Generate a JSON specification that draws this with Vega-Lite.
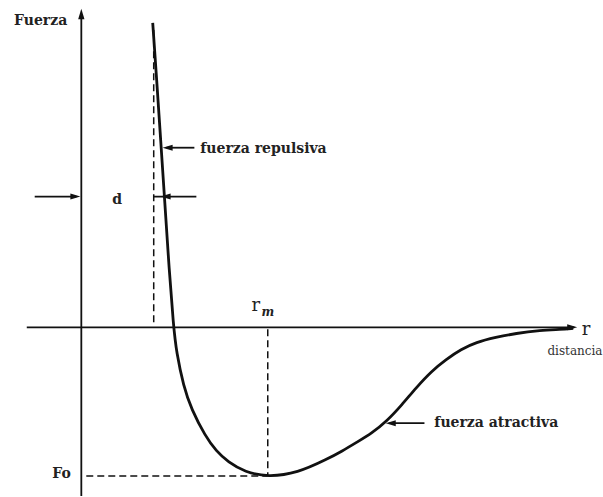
{
  "$schema": "https://vega.github.io/schema/vega-lite/v6.json",
  "width": 603,
  "height": 497,
  "padding": 0,
  "autosize": {"type": "fit", "contains": "padding"},
  "background": "white",
  "config": {"view": {"stroke": null}},
  "datasets": {
    "curve": [
      {"r": 1.44, "F": 3.05}, {"r": 1.52, "F": 2.48}, {"r": 1.60, "F": 1.88},
      {"r": 1.68, "F": 1.28}, {"r": 1.76, "F": 0.66}, {"r": 1.86, "F": 0.00},
      {"r": 1.92, "F": -0.25}, {"r": 2.06, "F": -0.59}, {"r": 2.22, "F": -0.82},
      {"r": 2.50, "F": -1.09}, {"r": 2.72, "F": -1.24}, {"r": 2.96, "F": -1.35},
      {"r": 3.30, "F": -1.45}, {"r": 3.76, "F": -1.50}, {"r": 4.36, "F": -1.46},
      {"r": 4.96, "F": -1.32}, {"r": 5.26, "F": -1.24}, {"r": 5.56, "F": -1.15},
      {"r": 5.86, "F": -1.06}, {"r": 6.16, "F": -0.94}, {"r": 6.46, "F": -0.78},
      {"r": 6.76, "F": -0.60}, {"r": 7.06, "F": -0.44}, {"r": 7.36, "F": -0.32},
      {"r": 7.66, "F": -0.22}, {"r": 7.96, "F": -0.15}, {"r": 8.36, "F": -0.10},
      {"r": 8.76, "F": -0.06}, {"r": 9.26, "F": -0.03}, {"r": 9.66, "F": -0.02},
      {"r": 9.92, "F": -0.01}
    ],
    "solid": [
      {"name": "eje F", "r": 0, "r2": 0, "F": -1.69, "F2": 3.12},
      {"name": "eje r", "r": -1.10, "r2": 9.94, "F": 0, "F2": 0},
      {"name": "d izquierda", "r": -0.94, "r2": -0.1, "F": 1.31, "F2": 1.31},
      {"name": "d derecha", "r": 1.46, "r2": 2.32, "F": 1.31, "F2": 1.31},
      {"name": "repulsiva", "r": 1.72, "r2": 2.28, "F": 1.80, "F2": 1.80},
      {"name": "atractiva", "r": 6.2, "r2": 6.92, "F": -0.96, "F2": -0.96}
    ],
    "dashed": [
      {"name": "d", "r": 1.46, "r2": 1.46, "F": 0.05, "F2": 2.98},
      {"name": "rm", "r": 3.76, "r2": 3.76, "F": -0.02, "F2": -1.49},
      {"name": "Fo", "r": 0.1, "r2": 3.76, "F": -1.49, "F2": -1.49}
    ],
    "headsRight": [
      {"r": 9.9, "F": 0},
      {"r": -0.12, "F": 1.31}
    ],
    "headsLeft": [
      {"r": 1.70, "F": 1.31},
      {"r": 1.74, "F": 1.80},
      {"r": 6.24, "F": -0.96}
    ],
    "headsUp": [
      {"r": 0, "F": 3.14}
    ],
    "labelsCenter": [
      {"r": -0.82, "F": 3.07, "text": "Fuerza"},
      {"r": 0.72, "F": 1.28, "text": "d"},
      {"r": -0.40, "F": -1.47, "text": "Fo"}
    ],
    "labelsLeft": [
      {"r": 2.40, "F": 1.79, "text": "fuerza repulsiva"},
      {"r": 7.12, "F": -0.96, "text": "fuerza atractiva"}
    ],
    "labelsR": [
      {"r": 3.52, "F": 0.21, "text": "r"},
      {"r": 10.18, "F": -0.03, "text": "r"}
    ],
    "labelsSub": [
      {"r": 3.76, "F": 0.15, "text": "m"}
    ],
    "labelsSmall": [
      {"r": 9.40, "F": -0.24, "text": "distancia"}
    ]
  },
  "encoding": {
    "x": {"field": "r", "type": "quantitative", "axis": null,
          "scale": {"domain": [-1.64, 10.42], "nice": false, "zero": false}},
    "y": {"field": "F", "type": "quantitative", "axis": null,
          "scale": {"domain": [-1.69, 3.28], "nice": false, "zero": false}}
  },
  "layer": [
    {
      "data": {"name": "dashed"},
      "mark": {"type": "rule", "color": "#111", "strokeWidth": 1.5, "strokeDash": [7, 4]},
      "encoding": {"x2": {"field": "r2"}, "y2": {"field": "F2"}}
    },
    {
      "data": {"name": "solid"},
      "mark": {"type": "rule", "color": "#111", "strokeWidth": 1.8},
      "encoding": {"x2": {"field": "r2"}, "y2": {"field": "F2"}}
    },
    {
      "data": {"name": "curve"},
      "mark": {"type": "line", "color": "#111", "strokeWidth": 2.8, "interpolate": "basis"},
      "encoding": {}
    },
    {
      "data": {"name": "headsRight"},
      "mark": {"type": "point", "filled": true, "color": "#111", "opacity": 1, "size": 100,
               "shape": "M1,0L-1,-0.6L-1,0.6Z"},
      "encoding": {}
    },
    {
      "data": {"name": "headsLeft"},
      "mark": {"type": "point", "filled": true, "color": "#111", "opacity": 1, "size": 100,
               "shape": "M-1,0L1,-0.6L1,0.6Z"},
      "encoding": {}
    },
    {
      "data": {"name": "headsUp"},
      "mark": {"type": "point", "filled": true, "color": "#111", "opacity": 1, "size": 110,
               "shape": "M0,-1L-0.6,1L0.6,1Z"},
      "encoding": {}
    },
    {
      "data": {"name": "labelsCenter"},
      "mark": {"type": "text", "font": "DejaVu Serif", "fontWeight": "bold", "fontSize": 14,
               "color": "#222", "align": "center", "baseline": "middle"},
      "encoding": {"text": {"field": "text"}}
    },
    {
      "data": {"name": "labelsLeft"},
      "mark": {"type": "text", "font": "DejaVu Serif", "fontWeight": "bold", "fontSize": 14,
               "color": "#222", "align": "left", "baseline": "middle"},
      "encoding": {"text": {"field": "text"}}
    },
    {
      "data": {"name": "labelsR"},
      "mark": {"type": "text", "font": "DejaVu Serif", "fontSize": 18,
               "color": "#222", "align": "center", "baseline": "middle"},
      "encoding": {"text": {"field": "text"}}
    },
    {
      "data": {"name": "labelsSub"},
      "mark": {"type": "text", "font": "DejaVu Serif", "fontStyle": "italic", "fontWeight": "bold",
               "fontSize": 12, "color": "#222", "align": "center", "baseline": "middle"},
      "encoding": {"text": {"field": "text"}}
    },
    {
      "data": {"name": "labelsSmall"},
      "mark": {"type": "text", "font": "DejaVu Serif", "fontSize": 12,
               "color": "#333", "align": "left", "baseline": "middle"},
      "encoding": {"text": {"field": "text"}}
    }
  ]
}
